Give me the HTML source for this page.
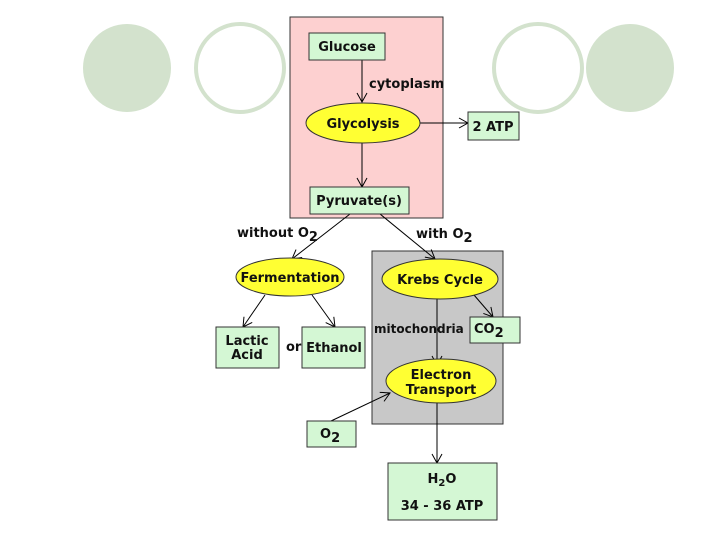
<!DOCTYPE html>
<html><head><style>
body{margin:0;background:#fff;}
svg text{font-family:"Comic Sans MS","DejaVu Sans","Liberation Sans",sans-serif;font-weight:bold;fill:#111;}
</style></head><body>
<svg width="720" height="540" viewBox="0 0 720 540" xmlns="http://www.w3.org/2000/svg">
<defs>
<marker id="a" markerWidth="12" markerHeight="12" refX="10" refY="6" orient="auto" markerUnits="userSpaceOnUse">
<path d="M1,1 L10,6 L1,11" fill="none" stroke="#000" stroke-width="1"/></marker>
</defs>
<circle cx="127" cy="68" r="44" fill="#d3e2cd"/>
<circle cx="240" cy="68" r="44" fill="none" stroke="#d3e2cd" stroke-width="4"/>
<circle cx="538" cy="68" r="44" fill="none" stroke="#d3e2cd" stroke-width="4"/>
<circle cx="630" cy="68" r="44" fill="#d3e2cd"/>
<rect x="290" y="17" width="153" height="201" fill="#fdd0d0" stroke="#333"/>
<rect x="372" y="251" width="131" height="173" fill="#c8c8c8" stroke="#333"/>
<g stroke="#000" fill="none">
<line x1="362" y1="60" x2="362" y2="102" marker-end="url(#a)"/>
<line x1="362" y1="143" x2="362" y2="187" marker-end="url(#a)"/>
<line x1="420" y1="123" x2="468" y2="123" marker-end="url(#a)"/>
<line x1="350" y1="214" x2="292" y2="259" marker-end="url(#a)"/>
<line x1="380" y1="214" x2="435" y2="259" marker-end="url(#a)"/>
<line x1="265" y1="295" x2="243" y2="327" marker-end="url(#a)"/>
<line x1="312" y1="295" x2="335" y2="327" marker-end="url(#a)"/>
<line x1="474" y1="295" x2="493" y2="317" marker-end="url(#a)"/>
<line x1="437" y1="299" x2="437" y2="365" marker-end="url(#a)"/>
<line x1="331" y1="421" x2="390" y2="393" marker-end="url(#a)"/>
<line x1="437" y1="403" x2="437" y2="463" marker-end="url(#a)"/>
</g>
<g fill="#d4f7d4" stroke="#333">
<rect x="309" y="33" width="76" height="27"/>
<rect x="468" y="112" width="51" height="28"/>
<rect x="310" y="187" width="99" height="27"/>
<rect x="216" y="327" width="63" height="41"/>
<rect x="302" y="327" width="63" height="41"/>
<rect x="470" y="317" width="50" height="26"/>
<rect x="307" y="421" width="49" height="26"/>
<rect x="388" y="463" width="109" height="57"/>
</g>
<g fill="#ffff33" stroke="#333">
<ellipse cx="363" cy="123" rx="57" ry="20"/>
<ellipse cx="290" cy="277" rx="54" ry="19"/>
<ellipse cx="440" cy="279" rx="58" ry="20"/>
<ellipse cx="441" cy="381" rx="55" ry="22"/>
</g>
<g font-size="13" text-anchor="middle">
<text x="347" y="51">Glucose</text>
<text x="363" y="128">Glycolysis</text>
<text x="493" y="131">2 ATP</text>
<text x="359" y="205">Pyruvate(s)</text>
<text x="290" y="282">Fermentation</text>
<text x="440" y="284">Krebs Cycle</text>
<text x="441" y="379">Electron</text>
<text x="441" y="394">Transport</text>
<text x="247" y="345">Lactic</text>
<text x="247" y="359">Acid</text>
<text x="334" y="352">Ethanol</text>
<text x="442" y="483">H<tspan font-size="10" dy="3">2</tspan><tspan dy="-3">O</tspan></text>
<text x="442" y="510">34 - 36 ATP</text>
</g>
<g font-size="13">
<text x="369" y="88">cytoplasm</text>
<text x="237" y="237">without O<tspan dy="4">2</tspan></text>
<text x="416" y="238">with O<tspan dy="4">2</tspan></text>
<text x="286" y="351">or</text>
<text x="374" y="333" font-size="12">mitochondria</text>
<text x="474" y="333">CO<tspan dy="4">2</tspan></text>
<text x="320" y="438">O<tspan dy="4">2</tspan></text>
</g>
</svg>
</body></html>
